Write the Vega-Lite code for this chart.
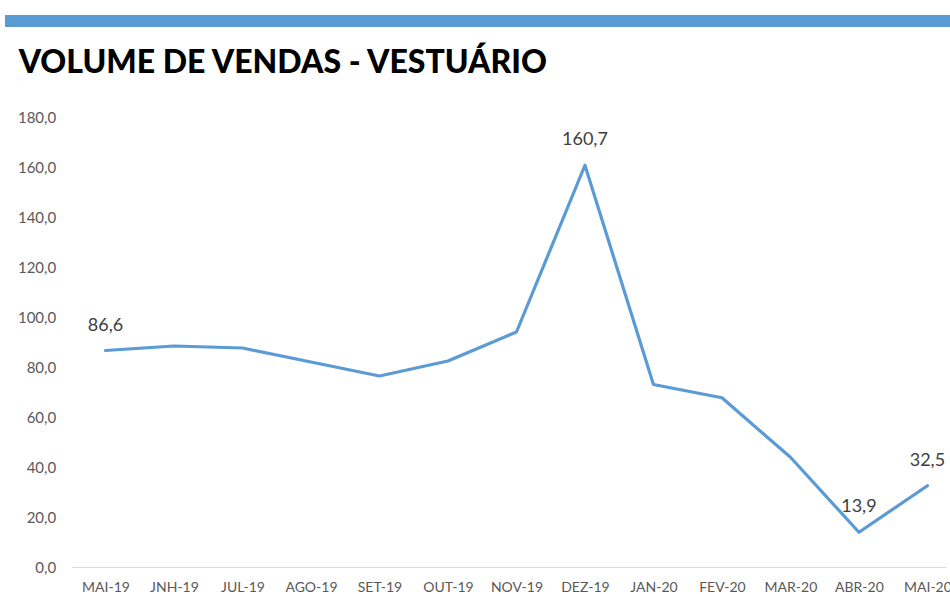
{
  "$schema": "https://vega.github.io/schema/vega-lite/v6.json",
  "background": "white",
  "padding": {"left": 5, "top": 15, "right": 0, "bottom": 0},
  "spacing": 20,
  "center": true,
  "config": {"view": {"stroke": null}, "font": "Lato"},
  "vconcat": [
    {
      "width": 1013,
      "height": 12,
      "data": {"values": [{"faixa": 1}]},
      "mark": {"type": "rect", "color": "#5B9BD5"},
      "encoding": {}
    },
    {
      "width": 874,
      "height": 450,
      "title": {
        "text": "VOLUME DE VENDAS - VESTUÁRIO",
        "anchor": "start",
        "frame": "bounds",
        "dx": 13,
        "offset": 30,
        "font": "Lato",
        "fontSize": 32,
        "fontWeight": 900,
        "color": "#000000"
      },
      "data": {
        "values": [
          {"mes": "MAI-19", "v": 86.6, "rotulo": "86,6"},
          {"mes": "JNH-19", "v": 88.4, "rotulo": ""},
          {"mes": "JUL-19", "v": 87.6, "rotulo": ""},
          {"mes": "AGO-19", "v": 82.0, "rotulo": ""},
          {"mes": "SET-19", "v": 76.4, "rotulo": ""},
          {"mes": "OUT-19", "v": 82.4, "rotulo": ""},
          {"mes": "NOV-19", "v": 94.0, "rotulo": ""},
          {"mes": "DEZ-19", "v": 160.7, "rotulo": "160,7"},
          {"mes": "JAN-20", "v": 73.0, "rotulo": ""},
          {"mes": "FEV-20", "v": 67.7, "rotulo": ""},
          {"mes": "MAR-20", "v": 43.9, "rotulo": ""},
          {"mes": "ABR-20", "v": 13.9, "rotulo": "13,9"},
          {"mes": "MAI-20", "v": 32.5, "rotulo": "32,5"}
        ]
      },
      "encoding": {
        "x": {
          "field": "mes",
          "type": "ordinal",
          "sort": null,
          "scale": {"type": "point", "padding": 0.38, "align": 0.65},
          "axis": {
            "title": null,
            "labelAngle": 0,
            "ticks": false,
            "domainColor": "#D9D9D9",
            "domainWidth": 1,
            "labelPadding": 13,
            "labelFontSize": 14,
            "labelColor": "#595959",
            "labelFont": "Lato"
          }
        },
        "y": {
          "field": "v",
          "type": "quantitative",
          "scale": {"domain": [0, 180], "nice": false},
          "axis": {
            "title": null,
            "values": [0, 20, 40, 60, 80, 100, 120, 140, 160, 180],
            "labelExpr": "replace(format(datum.value, '.1f'), '.', ',')",
            "grid": false,
            "domain": false,
            "ticks": false,
            "labelPadding": 16,
            "minExtent": 66,
            "labelFontSize": 15,
            "labelColor": "#595959",
            "labelFont": "Lato"
          }
        }
      },
      "layer": [
        {
          "mark": {"type": "line", "color": "#5B9BD5", "strokeWidth": 3.2, "strokeJoin": "round", "strokeCap": "round"}
        },
        {
          "mark": {"type": "text", "dy": -25, "fontSize": 18, "color": "#404040", "font": "Lato"},
          "encoding": {"text": {"field": "rotulo"}}
        }
      ]
    }
  ]
}
